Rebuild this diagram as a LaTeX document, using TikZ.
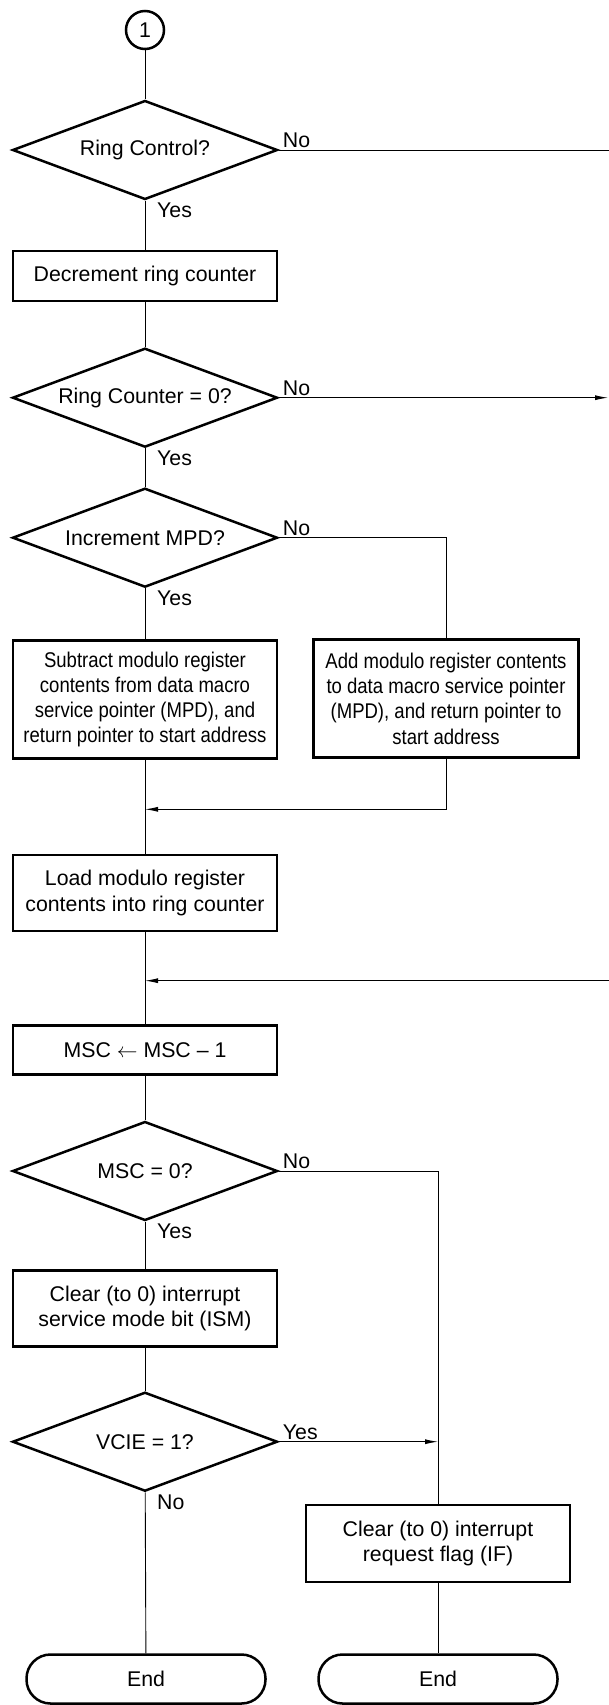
\documentclass[tikz,border=0pt]{standalone}
\usepackage{fontspec}
\setmainfont{Liberation Sans}
\newfontfamily\narrowsans[FakeStretch=0.87]{Liberation Sans}
\usetikzlibrary{shapes.geometric,arrows.meta}
\begin{document}
\begin{tikzpicture}[x=1pt,y=-1pt,
  font=\fontsize{21.3}{25.3}\selectfont,
  box/.style={draw,line width=2.5pt,align=center,minimum width=264pt,inner sep=0pt},
  decision/.style={draw,diamond,aspect=2.68,line width=2.5pt,minimum width=265pt,minimum height=99pt,inner sep=0pt},
  terminal/.style={draw,line width=2.5pt,rounded corners=24pt,minimum width=239pt,minimum height=49pt},
  link/.style={line width=0.9pt},
  arr/.style={line width=0.9pt,-{Latex[length=13pt,width=5pt]}},
  lbl/.style={inner sep=2pt}]
\useasboundingbox (0,0) rectangle (609,1705);

\node[draw,circle,line width=2.5pt,minimum size=38pt,inner sep=0pt] (start) at (145,30) {1};
\node[decision] (ringctl) at (145,150) {Ring Control?};
\node[box,minimum height=50pt] (decr) at (145,276) {Decrement ring counter};
\node[decision] (ringcnt) at (145,397.7) {Ring Counter = 0?};
\node[decision] (incmpd) at (145,537.7) {Increment MPD?};
\node[box,minimum height=118pt,font=\narrowsans\fontsize{21.3}{25.3}\selectfont] (subbox) at (145,699.5)
  {Subtract modulo register\\contents from data macro\\service pointer (MPD), and\\return pointer to start address};
\node[box,minimum width=265pt,minimum height=118pt,font=\narrowsans\fontsize{21.3}{25.3}\selectfont] (addbox) at (446,698.5)
  {Add modulo register contents\\to data macro service pointer\\(MPD), and return pointer to\\start address};
\node[box,minimum height=76pt] (loadbox) at (145,893) {Load modulo register\\contents into ring counter};
\node[box,minimum height=48.6pt] (mscbox) at (145,1050) {MSC $\leftarrow$ MSC – 1};
\node[decision] (msczero) at (145,1171) {MSC = 0?};
\node[box,minimum height=76pt] (clrism) at (145,1308.7) {Clear (to 0) interrupt\\service mode bit (ISM)};
\node[decision] (vcie) at (145,1441.7) {VCIE = 1?};
\node[box,minimum height=77pt] (clrif) at (438,1543.5) {Clear (to 0) interrupt\\request flag (IF)};
\node[terminal] (endl) at (146,1679) {End};
\node[terminal] (endr) at (438,1679) {End};

\coordinate (offA) at (609,150);
\coordinate (offB) at (608,397.7);
\coordinate (offC) at (609,980.7);
\coordinate (join1) at (145,809.3);
\coordinate (join2) at (145,980.7);
\coordinate (join3) at (438,1441.7);

\draw[link] (start) -- (ringctl);
\draw[link] (ringctl) -- (decr);
\draw[link] (ringctl.east) -- (offA);
\draw[link] (decr) -- (ringcnt);
\draw[arr] (ringcnt.east) -- (offB);
\draw[link] (ringcnt) -- (incmpd);
\draw[link] (incmpd) -- (subbox);
\draw[link] (incmpd.east) -| (addbox.north);
\draw[link] (subbox) -- (loadbox);
\draw[arr] (addbox.south) |- (join1);
\draw[link] (loadbox) -- (mscbox);
\draw[arr] (offC) -- (join2);
\draw[link] (mscbox) -- (msczero);
\draw[link] (msczero) -- (clrism);
\draw[link] (msczero.east) -| (clrif.north);
\draw[link] (clrism) -- (vcie);
\draw[arr] (vcie.east) -- (join3);
\draw[link] (vcie) -- (endl);
\draw[link] (clrif) -- (endr);

\node[lbl,anchor=south west] at ([xshift=2pt]ringctl.east) {No};
\node[lbl,anchor=north west] at ([xshift=10pt]ringctl.south) {Yes};
\node[lbl,anchor=south west] at ([xshift=2pt]ringcnt.east) {No};
\node[lbl,anchor=north west] at ([xshift=10pt]ringcnt.south) {Yes};
\node[lbl,anchor=south west] at ([xshift=2pt]incmpd.east) {No};
\node[lbl,anchor=north west] at ([xshift=10pt]incmpd.south) {Yes};
\node[lbl,anchor=south west] at ([xshift=2pt]msczero.east) {No};
\node[lbl,anchor=north west] at ([xshift=10pt]msczero.south) {Yes};
\node[lbl,anchor=south west] at ([xshift=2pt]vcie.east) {Yes};
\node[lbl,anchor=north west] at ([xshift=10pt]vcie.south) {No};
\end{tikzpicture}
\end{document}
